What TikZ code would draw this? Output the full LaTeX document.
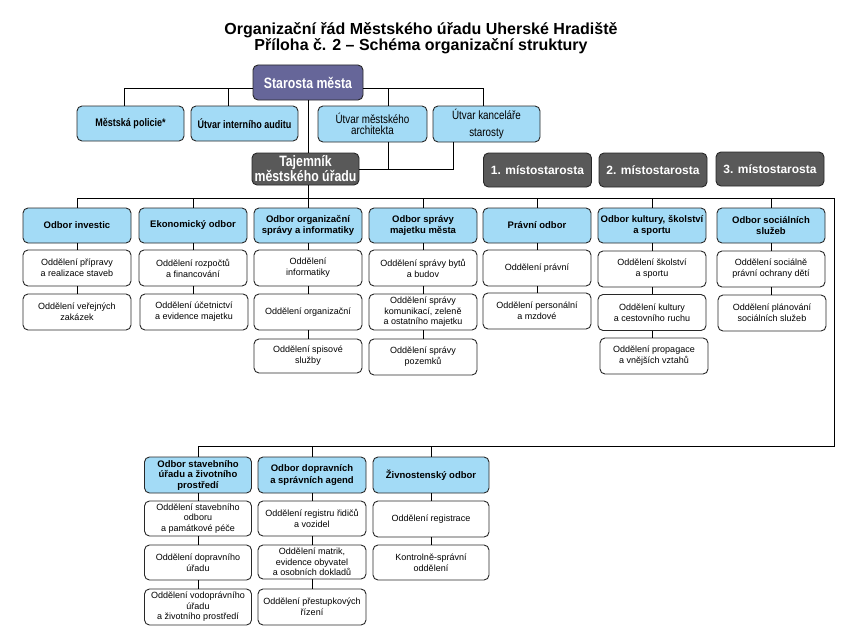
\documentclass[tikz,border=0pt]{standalone}
\usepackage{fontspec}
\setmainfont{Liberation Sans}
\newfontfamily\narrowfont[FakeStretch=0.82]{Liberation Sans}

\definecolor{modra}{RGB}{163,219,246}
\definecolor{fialova}{RGB}{102,102,153}
\definecolor{seda}{RGB}{89,89,89}
\definecolor{okraj}{RGB}{40,40,40}

\tikzset{
    odbor/.style={draw=okraj,line width=0.9pt,rounded corners=5pt,fill=modra,align=center,inner sep=1pt,
        minimum width=108pt,minimum height=35pt,font=\bfseries\fontsize{9.5}{11.5}\selectfont},
    utvar/.style={odbor,font=\narrowfont\bfseries\fontsize{11}{12}\selectfont},
    utvarlehky/.style={odbor,font=\narrowfont\fontsize{12}{11}\selectfont},
    oddeleni/.style={draw=okraj,line width=0.9pt,rounded corners=5pt,fill=white,align=center,inner sep=1pt,
        minimum width=108pt,minimum height=36pt,font=\fontsize{9}{11}\selectfont},
    vedeni/.style={draw=okraj,line width=0.9pt,rounded corners=5pt,fill=seda,text=white,align=center,inner sep=1pt,
        minimum width=108pt,minimum height=34pt,font=\bfseries\fontsize{12}{14}\selectfont},
    spoj/.style={line width=0.9pt,draw=black}
}

\begin{document}
\begin{tikzpicture}[x=1pt,y=-1pt]
        \useasboundingbox (0,0) rectangle (865,642);

        %%%%%%%%%% Titulek %%%%%%%%%%
        \node[font=\bfseries\fontsize{16}{16}\selectfont,anchor=base,inner sep=0pt] (titul1) at (421,35) {Organizační řád Městského úřadu Uherské Hradiště};
        \node[font=\bfseries\fontsize{16}{16}\selectfont,anchor=base,inner sep=0pt] (titul2) at (421,51) {Příloha č. 2 – Schéma organizační struktury};

        %%%%%%%%%% Vedeni %%%%%%%%%%
        \node[vedeni,fill=fialova,minimum width=110pt,minimum height=35pt,font=\narrowfont\bfseries\fontsize{15}{15}\selectfont] (starosta) at (308,82.5) {Starosta města};
        \node[vedeni,minimum width=107pt,minimum height=32pt,font=\narrowfont\bfseries\fontsize{15}{15}\selectfont] (tajemnik) at (305.5,169) {Tajemník\\městského úřadu};
        \node[vedeni] (mistostarosta1) at (537.5,170) {1. místostarosta};
        \node[vedeni] (mistostarosta2) at (653,170) {2. místostarosta};
        \node[vedeni] (mistostarosta3) at (770,169) {3. místostarosta};

        %%%%%%%%%% Utvary %%%%%%%%%%
        \node[utvar,minimum width=107pt] (policie) at (130.5,123.5) {Městská policie*};
        \node[utvar,minimum width=107pt] (audit) at (244.5,123.5) {Útvar interního auditu};
        \node[utvarlehky,minimum width=109pt,minimum height=36pt] (architekt) at (372.5,124) {Útvar městského\\architekta};
        \node[utvarlehky,minimum width=107pt,minimum height=36pt] (kancelar) at (486.5,124) {Útvar kanceláře\\[6pt]starosty};

        %%%%%%%%%% Odbory %%%%%%%%%%
        \node[odbor] (investice) at (77,225.5) {Odbor investic};
        \node[odbor] (ekonomicky) at (193,225.5) {Ekonomický odbor};
        \node[odbor] (organizacni) at (308,225.5) {Odbor organizační\\správy a informatiky};
        \node[odbor] (majetek) at (423,225.5) {Odbor správy\\majetku města};
        \node[odbor] (pravni) at (537,225.5) {Právní odbor};
        \node[odbor] (kultura) at (652,225.5) {Odbor kultury, školství\\a sportu};
        \node[odbor] (socialni) at (771,225.5) {Odbor sociálních\\služeb};

        %%%%%%%%%% Oddeleni %%%%%%%%%%
        \node[oddeleni] (pripravy) at (77,268) {Oddělení přípravy\\a realizace staveb};
        \node[oddeleni] (zakazky) at (77,312) {Oddělení veřejných\\zakázek};
        \node[oddeleni] (rozpocty) at (193,268) {Oddělení rozpočtů\\a financování};
        \node[oddeleni] (ucetnictvi) at (194,312) {Oddělení účetnictví\\a evidence majetku};
        \node[oddeleni] (informatika) at (308,268) {Oddělení\\informatiky};
        \node[oddeleni] (organizace) at (308,312) {Oddělení organizační};
        \node[oddeleni,minimum height=34pt] (spisy) at (308,356) {Oddělení spisové\\služby};
        \node[oddeleni] (byty) at (423,268) {Oddělení správy bytů\\a budov};
        \node[oddeleni,font=\fontsize{9}{10.5}\selectfont] (komunikace) at (423,312) {Oddělení správy\\komunikací, zeleně\\a ostatního majetku};
        \node[oddeleni] (pozemky) at (423,357) {Oddělení správy\\pozemků};
        \node[oddeleni] (pravniodd) at (537,268) {Oddělení právní};
        \node[oddeleni] (personalni) at (537,311) {Oddělení personální\\a mzdové};
        \node[oddeleni] (skolstvi) at (652,269) {Oddělení školství\\a sportu};
        \node[oddeleni] (kulturaodd) at (652,312.5) {Oddělení kultury\\a cestovního ruchu};
        \node[oddeleni] (propagace) at (654,356) {Oddělení propagace\\a vnějších vztahů};
        \node[oddeleni] (ospod) at (771,269) {Oddělení sociálně\\právní ochrany dětí};
        \node[oddeleni] (planovani) at (772,313) {Oddělení plánování\\sociálních služeb};

        %%%%%%%%%% Odbory dole %%%%%%%%%%
        \node[odbor,minimum width=107pt,minimum height=36pt,font=\bfseries\fontsize{9.5}{10.5}\selectfont] (stavebni) at (198,475) {Odbor stavebního\\úřadu a životního\\prostředí};
        \node[odbor,minimum height=36pt] (dopravni) at (312,475) {Odbor dopravních\\a správních agend};
        \node[odbor,minimum width=116pt,minimum height=36pt] (zivnost) at (431,475) {Živnostenský odbor};

        %%%%%%%%%% Oddeleni dole %%%%%%%%%%
        \node[oddeleni,minimum width=107pt,minimum height=35pt,font=\fontsize{9}{10.5}\selectfont] (stavodd) at (198,518.5) {Oddělení stavebního\\odboru\\a památkové péče};
        \node[oddeleni,minimum width=107pt,minimum height=35pt] (dopravniurad) at (198,562.5) {Oddělení dopravního\\úřadu};
        \node[oddeleni,minimum width=107pt,font=\fontsize{9}{10.5}\selectfont] (vodopravni) at (198,607) {Oddělení vodoprávního\\úřadu\\a životního prostředí};
        \node[oddeleni,minimum height=35pt] (registr) at (312,518.5) {Oddělení registru řidičů\\a vozidel};
        \node[oddeleni,minimum height=34pt,font=\fontsize{9}{10.5}\selectfont] (matriky) at (312,562) {Oddělení matrik,\\evidence obyvatel\\a osobních dokladů};
        \node[oddeleni] (prestupky) at (312,607) {Oddělení přestupkových\\řízení};
        \node[oddeleni,minimum width=116pt] (registrace) at (431,519) {Oddělení registrace};
        \node[oddeleni,minimum width=116pt,minimum height=35pt] (kontrola) at (431,562.5) {Kontrolně-správní\\oddělení};

        %%%%%%%%%% Spoje nahore %%%%%%%%%%
        \draw[spoj] ([yshift=-5.5pt]starosta.west) -| ([xshift=-6.5pt]policie.north);
        \draw[spoj] ([xshift=-16.5pt]audit.north) |- ([yshift=-5.5pt]starosta.west);
        \draw[spoj] ([yshift=-5.5pt]starosta.east) -| ([xshift=-3.5pt]kancelar.north);
        \draw[spoj] ([xshift=15.5pt]architekt.north) |- ([yshift=-5.5pt]starosta.east);
        \draw[spoj] (starosta.south) -- (starosta.south |- tajemnik.north);
        \draw[spoj] (tajemnik.east) -| ([xshift=-33.5pt]kancelar.south);
        \draw[spoj] ([xshift=15.5pt]architekt.south) |- (tajemnik.east);

        %%%%%%%%%% Sbernice %%%%%%%%%%
        \coordinate (sbernice) at (834,198);
        \coordinate (sbernice2) at (834,446);
        \draw[spoj] (tajemnik.south -| organizacni.north) -- (organizacni.north);
        \draw[spoj] (investice.north) |- (sbernice) -- (sbernice2) -| (stavebni.north);
        \draw[spoj] (ekonomicky.north) -- (ekonomicky.north |- sbernice);
        \draw[spoj] (majetek.north) -- (majetek.north |- sbernice);
        \draw[spoj] (pravni.north) -- (pravni.north |- sbernice);
        \draw[spoj] (kultura.north) -- (kultura.north |- sbernice);
        \draw[spoj] (socialni.north) -- (socialni.north |- sbernice);
        \draw[spoj] (dopravni.north) -- (dopravni.north |- sbernice2);
        \draw[spoj] (zivnost.north) -- (zivnost.north |- sbernice2);

        %%%%%%%%%% Spoje oddeleni %%%%%%%%%%
        \draw[spoj] (investice.south) -- (pripravy.north);
        \draw[spoj] (pripravy.south) -- (zakazky.north);
        \draw[spoj] (ekonomicky.south) -- (rozpocty.north);
        \draw[spoj] (rozpocty.south) -- (rozpocty.south |- ucetnictvi.north);
        \draw[spoj] (organizacni.south) -- (informatika.north);
        \draw[spoj] (informatika.south) -- (organizace.north);
        \draw[spoj] (organizace.south) -- (spisy.north);
        \draw[spoj] (majetek.south) -- (byty.north);
        \draw[spoj] (byty.south) -- (komunikace.north);
        \draw[spoj] (komunikace.south) -- (pozemky.north);
        \draw[spoj] (pravni.south) -- (pravniodd.north);
        \draw[spoj] (pravniodd.south) -- (personalni.north);
        \draw[spoj] (kultura.south) -- (skolstvi.north);
        \draw[spoj] (skolstvi.south) -- (kulturaodd.north);
        \draw[spoj] (kulturaodd.south) -- (kulturaodd.south |- propagace.north);
        \draw[spoj] (socialni.south) -- (ospod.north);
        \draw[spoj] (ospod.south) -- (ospod.south |- planovani.north);
        \draw[spoj] (stavebni.south) -- (stavodd.north);
        \draw[spoj] (stavodd.south) -- (dopravniurad.north);
        \draw[spoj] (dopravniurad.south) -- (vodopravni.north);
        \draw[spoj] (dopravni.south) -- (registr.north);
        \draw[spoj] (registr.south) -- (matriky.north);
        \draw[spoj] (matriky.south) -- (prestupky.north);
        \draw[spoj] (zivnost.south) -- (registrace.north);
        \draw[spoj] (registrace.south) -- (kontrola.north);
\end{tikzpicture}
\end{document}
